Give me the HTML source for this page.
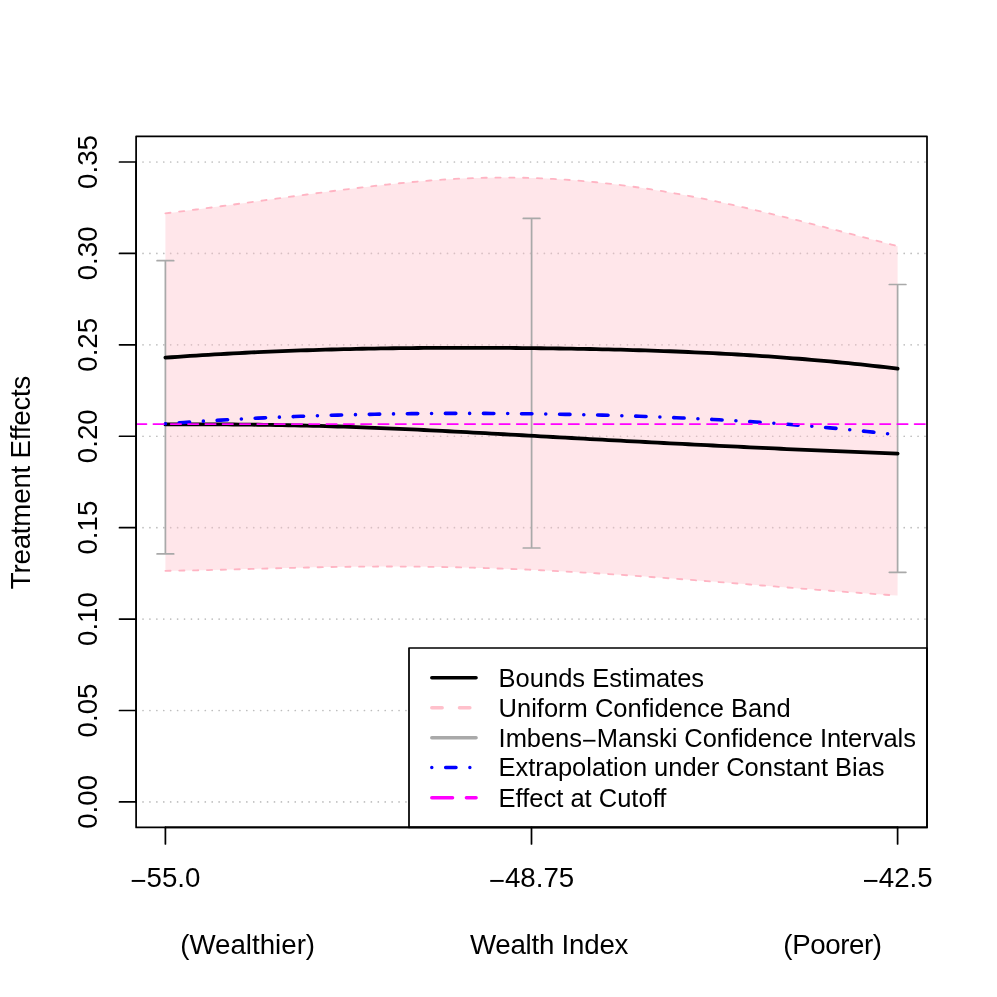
<!DOCTYPE html><html><head><meta charset="utf-8"><title>plot</title><style>html,body{margin:0;padding:0;background:#fff}svg{display:block;will-change:transform}text{font-family:"Liberation Sans",sans-serif;fill:#000}</style></head><body>
<svg width="997" height="997" viewBox="0 0 997 997">
<rect width="997" height="997" fill="#fff"/>
<g stroke="#BEBEBE" stroke-width="1.73" stroke-linecap="round" stroke-dasharray="0 6.92" fill="none"><path d="M136.10 801.90 H927.00"/><path d="M136.10 710.49 H927.00"/><path d="M136.10 619.07 H927.00"/><path d="M136.10 527.65 H927.00"/><path d="M136.10 436.24 H927.00"/><path d="M136.10 344.82 H927.00"/><path d="M136.10 253.41 H927.00"/><path d="M136.10 162.00 H927.00"/></g>
<path d="M165.40 213.39 L171.55 212.64 L177.71 211.88 L183.86 211.11 L190.01 210.32 L196.16 209.53 L202.32 208.73 L208.47 207.92 L214.62 207.10 L220.78 206.28 L226.93 205.45 L233.08 204.61 L239.24 203.77 L245.39 202.93 L251.54 202.08 L257.69 201.24 L263.85 200.39 L270.00 199.54 L276.15 198.69 L282.31 197.85 L288.46 197.01 L294.61 196.17 L300.76 195.33 L306.92 194.50 L313.07 193.68 L319.22 192.86 L325.38 192.05 L331.53 191.25 L337.68 190.45 L343.84 189.67 L349.99 188.90 L356.14 188.14 L362.29 187.39 L368.45 186.66 L374.60 185.94 L380.75 185.25 L386.91 184.57 L393.06 183.91 L399.21 183.28 L405.36 182.68 L411.52 182.10 L417.67 181.54 L423.82 181.02 L429.98 180.53 L436.13 180.08 L442.28 179.66 L448.44 179.27 L454.59 178.93 L460.74 178.62 L466.89 178.35 L473.05 178.12 L479.20 177.93 L485.35 177.78 L491.51 177.67 L497.66 177.60 L503.81 177.57 L509.96 177.59 L516.12 177.65 L522.27 177.75 L528.42 177.90 L534.58 178.09 L540.73 178.32 L546.88 178.60 L553.04 178.91 L559.19 179.27 L565.34 179.67 L571.49 180.11 L577.65 180.59 L583.80 181.11 L589.95 181.67 L596.11 182.27 L602.26 182.91 L608.41 183.60 L614.56 184.32 L620.72 185.07 L626.87 185.87 L633.02 186.71 L639.18 187.58 L645.33 188.49 L651.48 189.44 L657.64 190.43 L663.79 191.45 L669.94 192.50 L676.09 193.59 L682.25 194.70 L688.40 195.85 L694.55 197.03 L700.71 198.24 L706.86 199.48 L713.01 200.74 L719.16 202.04 L725.32 203.35 L731.47 204.69 L737.62 206.05 L743.78 207.44 L749.93 208.85 L756.08 210.27 L762.24 211.72 L768.39 213.18 L774.54 214.66 L780.69 216.16 L786.85 217.67 L793.00 219.19 L799.15 220.73 L805.31 222.28 L811.46 223.83 L817.61 225.40 L823.76 226.98 L829.92 228.56 L836.07 230.15 L842.22 231.75 L848.38 233.35 L854.53 234.95 L860.68 236.56 L866.84 238.16 L872.99 239.77 L879.14 241.38 L885.29 242.98 L891.45 244.58 L897.60 246.17 L897.60 595.56 L891.45 595.15 L885.29 594.73 L879.14 594.31 L872.99 593.89 L866.84 593.45 L860.68 593.01 L854.53 592.57 L848.38 592.12 L842.22 591.67 L836.07 591.21 L829.92 590.75 L823.76 590.28 L817.61 589.81 L811.46 589.34 L805.31 588.86 L799.15 588.38 L793.00 587.90 L786.85 587.42 L780.69 586.94 L774.54 586.45 L768.39 585.97 L762.24 585.48 L756.08 585.00 L749.93 584.51 L743.78 584.02 L737.62 583.54 L731.47 583.05 L725.32 582.57 L719.16 582.09 L713.01 581.61 L706.86 581.13 L700.71 580.66 L694.55 580.19 L688.40 579.72 L682.25 579.25 L676.09 578.79 L669.94 578.33 L663.79 577.88 L657.64 577.43 L651.48 576.99 L645.33 576.55 L639.18 576.12 L633.02 575.69 L626.87 575.27 L620.72 574.86 L614.56 574.45 L608.41 574.06 L602.26 573.66 L596.11 573.28 L589.95 572.91 L583.80 572.54 L577.65 572.18 L571.49 571.83 L565.34 571.49 L559.19 571.16 L553.04 570.85 L546.88 570.54 L540.73 570.24 L534.58 569.95 L528.42 569.68 L522.27 569.41 L516.12 569.16 L509.96 568.92 L503.81 568.69 L497.66 568.47 L491.51 568.26 L485.35 568.06 L479.20 567.88 L473.05 567.70 L466.89 567.54 L460.74 567.39 L454.59 567.25 L448.44 567.13 L442.28 567.01 L436.13 566.91 L429.98 566.82 L423.82 566.74 L417.67 566.67 L411.52 566.62 L405.36 566.57 L399.21 566.54 L393.06 566.52 L386.91 566.52 L380.75 566.52 L374.60 566.54 L368.45 566.57 L362.29 566.61 L356.14 566.67 L349.99 566.73 L343.84 566.81 L337.68 566.91 L331.53 567.01 L325.38 567.12 L319.22 567.24 L313.07 567.37 L306.92 567.51 L300.76 567.65 L294.61 567.80 L288.46 567.96 L282.31 568.12 L276.15 568.28 L270.00 568.45 L263.85 568.61 L257.69 568.78 L251.54 568.95 L245.39 569.11 L239.24 569.28 L233.08 569.44 L226.93 569.59 L220.78 569.75 L214.62 569.90 L208.47 570.04 L202.32 570.17 L196.16 570.30 L190.01 570.42 L183.86 570.53 L177.71 570.63 L171.55 570.72 L165.40 570.79Z" fill="#FFC0CB" fill-opacity="0.4" stroke="none"/>
<g stroke="#FFB4C3" stroke-width="1.83" stroke-linecap="round" stroke-linejoin="round" stroke-dasharray="5.19 8.65" fill="none"><path d="M165.40 213.39 L171.55 212.64 L177.71 211.88 L183.86 211.11 L190.01 210.32 L196.16 209.53 L202.32 208.73 L208.47 207.92 L214.62 207.10 L220.78 206.28 L226.93 205.45 L233.08 204.61 L239.24 203.77 L245.39 202.93 L251.54 202.08 L257.69 201.24 L263.85 200.39 L270.00 199.54 L276.15 198.69 L282.31 197.85 L288.46 197.01 L294.61 196.17 L300.76 195.33 L306.92 194.50 L313.07 193.68 L319.22 192.86 L325.38 192.05 L331.53 191.25 L337.68 190.45 L343.84 189.67 L349.99 188.90 L356.14 188.14 L362.29 187.39 L368.45 186.66 L374.60 185.94 L380.75 185.25 L386.91 184.57 L393.06 183.91 L399.21 183.28 L405.36 182.68 L411.52 182.10 L417.67 181.54 L423.82 181.02 L429.98 180.53 L436.13 180.08 L442.28 179.66 L448.44 179.27 L454.59 178.93 L460.74 178.62 L466.89 178.35 L473.05 178.12 L479.20 177.93 L485.35 177.78 L491.51 177.67 L497.66 177.60 L503.81 177.57 L509.96 177.59 L516.12 177.65 L522.27 177.75 L528.42 177.90 L534.58 178.09 L540.73 178.32 L546.88 178.60 L553.04 178.91 L559.19 179.27 L565.34 179.67 L571.49 180.11 L577.65 180.59 L583.80 181.11 L589.95 181.67 L596.11 182.27 L602.26 182.91 L608.41 183.60 L614.56 184.32 L620.72 185.07 L626.87 185.87 L633.02 186.71 L639.18 187.58 L645.33 188.49 L651.48 189.44 L657.64 190.43 L663.79 191.45 L669.94 192.50 L676.09 193.59 L682.25 194.70 L688.40 195.85 L694.55 197.03 L700.71 198.24 L706.86 199.48 L713.01 200.74 L719.16 202.04 L725.32 203.35 L731.47 204.69 L737.62 206.05 L743.78 207.44 L749.93 208.85 L756.08 210.27 L762.24 211.72 L768.39 213.18 L774.54 214.66 L780.69 216.16 L786.85 217.67 L793.00 219.19 L799.15 220.73 L805.31 222.28 L811.46 223.83 L817.61 225.40 L823.76 226.98 L829.92 228.56 L836.07 230.15 L842.22 231.75 L848.38 233.35 L854.53 234.95 L860.68 236.56 L866.84 238.16 L872.99 239.77 L879.14 241.38 L885.29 242.98 L891.45 244.58 L897.60 246.17"/><path d="M165.40 570.79 L171.55 570.72 L177.71 570.63 L183.86 570.53 L190.01 570.42 L196.16 570.30 L202.32 570.17 L208.47 570.04 L214.62 569.90 L220.78 569.75 L226.93 569.59 L233.08 569.44 L239.24 569.28 L245.39 569.11 L251.54 568.95 L257.69 568.78 L263.85 568.61 L270.00 568.45 L276.15 568.28 L282.31 568.12 L288.46 567.96 L294.61 567.80 L300.76 567.65 L306.92 567.51 L313.07 567.37 L319.22 567.24 L325.38 567.12 L331.53 567.01 L337.68 566.91 L343.84 566.81 L349.99 566.73 L356.14 566.67 L362.29 566.61 L368.45 566.57 L374.60 566.54 L380.75 566.52 L386.91 566.52 L393.06 566.52 L399.21 566.54 L405.36 566.57 L411.52 566.62 L417.67 566.67 L423.82 566.74 L429.98 566.82 L436.13 566.91 L442.28 567.01 L448.44 567.13 L454.59 567.25 L460.74 567.39 L466.89 567.54 L473.05 567.70 L479.20 567.88 L485.35 568.06 L491.51 568.26 L497.66 568.47 L503.81 568.69 L509.96 568.92 L516.12 569.16 L522.27 569.41 L528.42 569.68 L534.58 569.95 L540.73 570.24 L546.88 570.54 L553.04 570.85 L559.19 571.16 L565.34 571.49 L571.49 571.83 L577.65 572.18 L583.80 572.54 L589.95 572.91 L596.11 573.28 L602.26 573.66 L608.41 574.06 L614.56 574.45 L620.72 574.86 L626.87 575.27 L633.02 575.69 L639.18 576.12 L645.33 576.55 L651.48 576.99 L657.64 577.43 L663.79 577.88 L669.94 578.33 L676.09 578.79 L682.25 579.25 L688.40 579.72 L694.55 580.19 L700.71 580.66 L706.86 581.13 L713.01 581.61 L719.16 582.09 L725.32 582.57 L731.47 583.05 L737.62 583.54 L743.78 584.02 L749.93 584.51 L756.08 585.00 L762.24 585.48 L768.39 585.97 L774.54 586.45 L780.69 586.94 L786.85 587.42 L793.00 587.90 L799.15 588.38 L805.31 588.86 L811.46 589.34 L817.61 589.81 L823.76 590.28 L829.92 590.75 L836.07 591.21 L842.22 591.67 L848.38 592.12 L854.53 592.57 L860.68 593.01 L866.84 593.45 L872.99 593.89 L879.14 594.31 L885.29 594.73 L891.45 595.15 L897.60 595.56"/></g>
<g stroke="#A9A9A9" stroke-width="1.73" stroke-linecap="round" fill="none"><path d="M165.40 260.70 V553.90 M157.10 260.70 H173.70 M157.10 553.90 H173.70"/><path d="M531.60 218.40 V548.00 M523.30 218.40 H539.90 M523.30 548.00 H539.90"/><path d="M897.60 284.50 V572.30 M889.30 284.50 H905.90 M889.30 572.30 H905.90"/></g>
<g stroke="#000" stroke-width="3.80" stroke-linecap="round" stroke-linejoin="round" fill="none"><path d="M165.40 357.69 L171.55 357.24 L177.71 356.81 L183.86 356.38 L190.01 355.97 L196.16 355.57 L202.32 355.18 L208.47 354.80 L214.62 354.44 L220.78 354.08 L226.93 353.74 L233.08 353.40 L239.24 353.08 L245.39 352.77 L251.54 352.47 L257.69 352.18 L263.85 351.90 L270.00 351.63 L276.15 351.37 L282.31 351.13 L288.46 350.89 L294.61 350.66 L300.76 350.44 L306.92 350.23 L313.07 350.03 L319.22 349.84 L325.38 349.66 L331.53 349.49 L337.68 349.33 L343.84 349.17 L349.99 349.03 L356.14 348.89 L362.29 348.76 L368.45 348.64 L374.60 348.53 L380.75 348.43 L386.91 348.33 L393.06 348.25 L399.21 348.17 L405.36 348.10 L411.52 348.03 L417.67 347.98 L423.82 347.93 L429.98 347.89 L436.13 347.85 L442.28 347.83 L448.44 347.81 L454.59 347.79 L460.74 347.79 L466.89 347.79 L473.05 347.79 L479.20 347.81 L485.35 347.83 L491.51 347.85 L497.66 347.88 L503.81 347.92 L509.96 347.96 L516.12 348.01 L522.27 348.06 L528.42 348.12 L534.58 348.19 L540.73 348.26 L546.88 348.33 L553.04 348.41 L559.19 348.50 L565.34 348.59 L571.49 348.69 L577.65 348.79 L583.80 348.90 L589.95 349.02 L596.11 349.14 L602.26 349.28 L608.41 349.42 L614.56 349.56 L620.72 349.72 L626.87 349.88 L633.02 350.05 L639.18 350.23 L645.33 350.42 L651.48 350.62 L657.64 350.83 L663.79 351.04 L669.94 351.27 L676.09 351.51 L682.25 351.76 L688.40 352.02 L694.55 352.29 L700.71 352.57 L706.86 352.86 L713.01 353.16 L719.16 353.48 L725.32 353.81 L731.47 354.15 L737.62 354.50 L743.78 354.86 L749.93 355.24 L756.08 355.63 L762.24 356.04 L768.39 356.46 L774.54 356.89 L780.69 357.34 L786.85 357.80 L793.00 358.27 L799.15 358.76 L805.31 359.26 L811.46 359.78 L817.61 360.31 L823.76 360.86 L829.92 361.42 L836.07 362.00 L842.22 362.60 L848.38 363.21 L854.53 363.83 L860.68 364.47 L866.84 365.13 L872.99 365.80 L879.14 366.50 L885.29 367.20 L891.45 367.93 L897.60 368.67"/><path d="M165.40 424.39 L171.55 424.37 L177.71 424.35 L183.86 424.34 L190.01 424.33 L196.16 424.34 L202.32 424.34 L208.47 424.36 L214.62 424.38 L220.78 424.41 L226.93 424.45 L233.08 424.50 L239.24 424.55 L245.39 424.61 L251.54 424.67 L257.69 424.75 L263.85 424.83 L270.00 424.92 L276.15 425.02 L282.31 425.13 L288.46 425.25 L294.61 425.37 L300.76 425.51 L306.92 425.65 L313.07 425.80 L319.22 425.96 L325.38 426.13 L331.53 426.31 L337.68 426.50 L343.84 426.70 L349.99 426.91 L356.14 427.12 L362.29 427.35 L368.45 427.58 L374.60 427.82 L380.75 428.07 L386.91 428.33 L393.06 428.60 L399.21 428.87 L405.36 429.15 L411.52 429.43 L417.67 429.72 L423.82 430.02 L429.98 430.32 L436.13 430.62 L442.28 430.94 L448.44 431.25 L454.59 431.57 L460.74 431.89 L466.89 432.22 L473.05 432.55 L479.20 432.88 L485.35 433.22 L491.51 433.56 L497.66 433.90 L503.81 434.24 L509.96 434.58 L516.12 434.92 L522.27 435.27 L528.42 435.61 L534.58 435.96 L540.73 436.30 L546.88 436.64 L553.04 436.99 L559.19 437.33 L565.34 437.67 L571.49 438.01 L577.65 438.35 L583.80 438.69 L589.95 439.03 L596.11 439.37 L602.26 439.70 L608.41 440.04 L614.56 440.37 L620.72 440.70 L626.87 441.03 L633.02 441.36 L639.18 441.69 L645.33 442.02 L651.48 442.35 L657.64 442.67 L663.79 442.99 L669.94 443.31 L676.09 443.63 L682.25 443.95 L688.40 444.27 L694.55 444.58 L700.71 444.89 L706.86 445.20 L713.01 445.51 L719.16 445.82 L725.32 446.12 L731.47 446.42 L737.62 446.72 L743.78 447.02 L749.93 447.32 L756.08 447.61 L762.24 447.90 L768.39 448.19 L774.54 448.47 L780.69 448.76 L786.85 449.04 L793.00 449.31 L799.15 449.59 L805.31 449.86 L811.46 450.13 L817.61 450.40 L823.76 450.66 L829.92 450.92 L836.07 451.18 L842.22 451.43 L848.38 451.69 L854.53 451.93 L860.68 452.18 L866.84 452.42 L872.99 452.66 L879.14 452.89 L885.29 453.13 L891.45 453.35 L897.60 453.58"/></g>
<path d="M165.40 423.78 L171.55 423.33 L177.71 422.89 L183.86 422.46 L190.01 422.04 L196.16 421.63 L202.32 421.23 L208.47 420.85 L214.62 420.47 L220.78 420.11 L226.93 419.75 L233.08 419.41 L239.24 419.08 L245.39 418.75 L251.54 418.44 L257.69 418.14 L263.85 417.85 L270.00 417.56 L276.15 417.29 L282.31 417.03 L288.46 416.78 L294.61 416.53 L300.76 416.30 L306.92 416.08 L313.07 415.86 L319.22 415.66 L325.38 415.46 L331.53 415.28 L337.68 415.10 L343.84 414.93 L349.99 414.77 L356.14 414.62 L362.29 414.48 L368.45 414.35 L374.60 414.23 L380.75 414.11 L386.91 414.01 L393.06 413.91 L399.21 413.82 L405.36 413.74 L411.52 413.67 L417.67 413.60 L423.82 413.55 L429.98 413.50 L436.13 413.46 L442.28 413.43 L448.44 413.40 L454.59 413.39 L460.74 413.38 L466.89 413.38 L473.05 413.39 L479.20 413.40 L485.35 413.42 L491.51 413.45 L497.66 413.49 L503.81 413.53 L509.96 413.58 L516.12 413.64 L522.27 413.70 L528.42 413.77 L534.58 413.85 L540.73 413.93 L546.88 414.02 L553.04 414.12 L559.19 414.23 L565.34 414.34 L571.49 414.45 L577.65 414.58 L583.80 414.71 L589.95 414.85 L596.11 415.00 L602.26 415.16 L608.41 415.32 L614.56 415.49 L620.72 415.67 L626.87 415.86 L633.02 416.06 L639.18 416.26 L645.33 416.48 L651.48 416.70 L657.64 416.94 L663.79 417.18 L669.94 417.43 L676.09 417.69 L682.25 417.96 L688.40 418.25 L694.55 418.54 L700.71 418.84 L706.86 419.15 L713.01 419.48 L719.16 419.81 L725.32 420.16 L731.47 420.51 L737.62 420.88 L743.78 421.26 L749.93 421.65 L756.08 422.05 L762.24 422.46 L768.39 422.89 L774.54 423.33 L780.69 423.78 L786.85 424.24 L793.00 424.72 L799.15 425.21 L805.31 425.71 L811.46 426.22 L817.61 426.75 L823.76 427.29 L829.92 427.85 L836.07 428.42 L842.22 429.00 L848.38 429.60 L854.53 430.21 L860.68 430.83 L866.84 431.47 L872.99 432.13 L879.14 432.80 L885.29 433.48 L891.45 434.18 L897.60 434.90" stroke="#0000FF" stroke-width="3.61" stroke-linecap="round" stroke-linejoin="round" stroke-dasharray="0 13.84 10.38 13.84" fill="none"/>
<path d="M136.10 424.07 H927.00" stroke="#FF00FF" stroke-width="1.73" stroke-linecap="round" stroke-dasharray="10.38 6.92" fill="none"/>
<rect x="409.00" y="648.00" width="518.00" height="179.40" fill="#fff" stroke="#000" stroke-width="1.73" stroke-linejoin="round"/>
<g stroke-width="3.46" stroke-linecap="round" fill="none">
<path d="M431.80 677.70 H476.10" stroke="#000"/>
<path d="M431.80 707.80 H476.10" stroke="#FFC0CB" stroke-dasharray="10.38 17.30"/>
<path d="M431.80 737.70 H476.10" stroke="#A9A9A9"/>
<path d="M431.80 767.60 H476.10" stroke="#0000FF" stroke-dasharray="0 13.84 10.38 13.84"/>
<path d="M431.80 797.70 H476.10" stroke="#FF00FF" stroke-dasharray="20.76 13.84"/>
</g>
<text x="498.6" y="686.50" font-size="25.5">Bounds Estimates</text>
<text x="498.6" y="716.60" font-size="25.5">Uniform Confidence Band</text>
<text x="498.6" y="746.50" font-size="25.5" textLength="417.3">Imbens<tspan dy="2.8">−</tspan><tspan dy="-2.8">Manski Confidence Intervals</tspan></text>
<text x="498.6" y="776.40" font-size="25.5" textLength="386.0">Extrapolation under Constant Bias</text>
<text x="498.6" y="806.50" font-size="25.5">Effect at Cutoff</text>
<g stroke="#000" stroke-width="1.73" stroke-linecap="round" stroke-linejoin="round" fill="none">
<rect x="136.10" y="136.30" width="790.90" height="691.10"/>
<path d="M136.10 801.90 V162.00"/>
<path d="M136.10 801.90 H119.50"/>
<path d="M136.10 710.49 H119.50"/>
<path d="M136.10 619.07 H119.50"/>
<path d="M136.10 527.65 H119.50"/>
<path d="M136.10 436.24 H119.50"/>
<path d="M136.10 344.82 H119.50"/>
<path d="M136.10 253.41 H119.50"/>
<path d="M136.10 162.00 H119.50"/>
<path d="M165.40 827.40 H897.60"/>
<path d="M165.40 827.40 V844.00"/>
<path d="M531.50 827.40 V844.00"/>
<path d="M897.60 827.40 V844.00"/>
</g>
<text transform="translate(96.6 801.90) rotate(-90)" text-anchor="middle" font-size="27.70">0.00</text>
<text transform="translate(96.6 710.49) rotate(-90)" text-anchor="middle" font-size="27.70">0.05</text>
<text transform="translate(96.6 619.07) rotate(-90)" text-anchor="middle" font-size="27.70">0.10</text>
<text transform="translate(96.6 527.65) rotate(-90)" text-anchor="middle" font-size="27.70">0.15</text>
<text transform="translate(96.6 436.24) rotate(-90)" text-anchor="middle" font-size="27.70">0.20</text>
<text transform="translate(96.6 344.82) rotate(-90)" text-anchor="middle" font-size="27.70">0.25</text>
<text transform="translate(96.6 253.41) rotate(-90)" text-anchor="middle" font-size="27.70">0.30</text>
<text transform="translate(96.6 162.00) rotate(-90)" text-anchor="middle" font-size="27.70">0.35</text>
<text x="165.40" y="887.3" text-anchor="middle" font-size="27.70"><tspan dy="3.05">−</tspan><tspan dy="-3.05">55.0</tspan></text>
<text x="531.50" y="887.3" text-anchor="middle" font-size="27.70"><tspan dy="3.05">−</tspan><tspan dy="-3.05">48.75</tspan></text>
<text x="897.60" y="887.3" text-anchor="middle" font-size="27.70"><tspan dy="3.05">−</tspan><tspan dy="-3.05">42.5</tspan></text>
<text transform="translate(29.9 482.4) rotate(-90)" text-anchor="middle" textLength="213.6" font-size="27.70">Treatment Effects</text>
<text x="180.2" y="953.5" font-size="27.70">(Wealthier)</text>
<text x="469.9" y="953.5" textLength="158.5" font-size="27.70">Wealth Index</text>
<text x="783.3" y="953.5" textLength="98.8" font-size="27.70">(Poorer)</text>
</svg></body></html>
